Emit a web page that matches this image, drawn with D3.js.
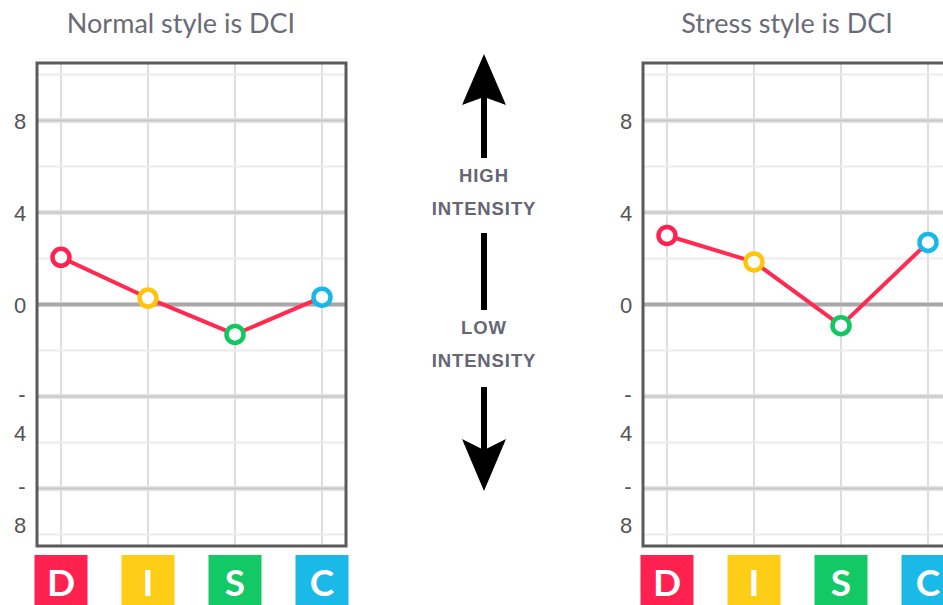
<!DOCTYPE html>
<html>
<head>
<meta charset="utf-8">
<script src="https://cdn.jsdelivr.net/npm/d3@7"></script>
<style>
  html, body { margin: 0; padding: 0; background: #fff; }
  #chart { width: 943px; height: 605px; overflow: hidden; }
  svg { display: block; }
</style>
</head>
<body>
<div id="chart"></div>
<script>
// data
const categories = ['D', 'I', 'S', 'C'];
const normalValues = [2.05, 0.28, -1.3, 0.32];
const stressValues = [3.0, 1.85, -0.92, 2.7];
const panelTitles = ['Normal style is DCI', 'Stress style is DCI'];
const gridTicks = [10, 8, 6, 4, 2, 0, -2, -4, -6, -8, -10];
const labelTicks = [8, 4, 0, -4, -8];
const discColors = ['#ff2150', '#fdcd17', '#13c966', '#1bb9e8'];
const pointColors = ['#ff2150', '#ffc40c', '#12c760', '#18b7e8'];
const lineColor = '#ff2a50';

const W = 943, H = 605;
const frame = { left: 37, right: 346, top: 63, bottom: 546 };
const panelOffset = 606;

const svg = d3.select('#chart').append('svg')
    .attr('width', W)
    .attr('height', H);

const yScale = d3.scaleLinear()
    .domain([-10.5, 10.5])
    .range([frame.bottom, frame.top]);

const xScale = d3.scalePoint()
    .domain(categories)
    .range([frame.left + 24, frame.right - 24]);

function drawPanel(idx, values) {
    const g = svg.append('g')
        .attr('transform', `translate(${idx * panelOffset},0)`);

    g.append('text')
        .attr('x', 181)
        .attr('y', 33)
        .attr('text-anchor', 'middle')
        .attr('font-family', 'Lato, sans-serif')
        .attr('font-size', 27)
        .attr('fill', '#6b6b78')
        .text(panelTitles[idx]);

    // faint line above plot
    g.append('line')
        .attr('x1', frame.left - 2).attr('x2', frame.right + 2)
        .attr('y1', 59).attr('y2', 59)
        .attr('stroke', '#f0f0f0').attr('stroke-width', 1);

    // vertical grid
    g.selectAll('.vgrid')
        .data(categories)
        .enter()
        .append('line')
        .attr('class', 'vgrid')
        .attr('x1', d => xScale(d)).attr('x2', d => xScale(d))
        .attr('y1', frame.top).attr('y2', frame.bottom)
        .attr('stroke', '#dedede')
        .attr('stroke-width', 2);

    // horizontal grid
    const hg = g.selectAll('.hgrid')
        .data(gridTicks)
        .enter()
        .append('g')
        .attr('class', 'hgrid');

    hg.append('line')
        .attr('x1', frame.left).attr('x2', frame.right)
        .attr('y1', d => yScale(d)).attr('y2', d => yScale(d))
        .attr('stroke', d => d === 0 ? '#d0d0d0' : (d % 4 === 0 ? '#e3e3e3' : '#ececec'))
        .attr('stroke-width', d => d % 4 === 0 ? 5 : 2);

    hg.filter(d => d % 4 === 0)
        .append('line')
        .attr('x1', frame.left).attr('x2', frame.right)
        .attr('y1', d => yScale(d)).attr('y2', d => yScale(d))
        .attr('stroke', d => d === 0 ? '#a8a8a8' : '#c9c9c9')
        .attr('stroke-width', d => d === 0 ? 3 : 2);

    // frame
    g.append('rect')
        .attr('x', frame.left)
        .attr('y', frame.top)
        .attr('width', frame.right - frame.left)
        .attr('height', frame.bottom - frame.top)
        .attr('fill', 'none')
        .attr('stroke', '#5a5a5a')
        .attr('stroke-width', 3);

    // y labels (negative sign wraps onto its own line)
    const yl = g.selectAll('.ylabel')
        .data(labelTicks)
        .enter()
        .append('text')
        .attr('class', 'ylabel')
        .attr('text-anchor', 'middle')
        .attr('font-family', '"Liberation Sans", Arial, sans-serif')
        .attr('font-size', 22)
        .attr('fill', '#555');

    yl.each(function(d) {
        const t = d3.select(this);
        const y = yScale(d);
        if (d < 0) {
            t.append('tspan').attr('x', 22).attr('y', y + 5).text('-');
            t.append('tspan').attr('x', 20).attr('y', y + 44).text(String(Math.abs(d)));
        } else {
            t.append('tspan').attr('x', 20).attr('y', y + 8).text(String(d));
        }
    });

    // series line
    const line = d3.line()
        .x((d, i) => xScale(categories[i]))
        .y(d => yScale(d));

    g.append('path')
        .datum(values)
        .attr('d', line)
        .attr('fill', 'none')
        .attr('stroke', lineColor)
        .attr('stroke-width', 4)
        .attr('stroke-linejoin', 'round');

    g.selectAll('.pt')
        .data(values)
        .enter()
        .append('circle')
        .attr('class', 'pt')
        .attr('cx', (d, i) => xScale(categories[i]))
        .attr('cy', d => yScale(d))
        .attr('r', 8.5)
        .attr('fill', '#fff')
        .attr('stroke', (d, i) => pointColors[i])
        .attr('stroke-width', 4.5);

    // DISC boxes
    const box = g.selectAll('.box')
        .data(categories)
        .enter()
        .append('g')
        .attr('class', 'box');

    box.append('rect')
        .attr('x', d => xScale(d) - 26.5)
        .attr('y', 555)
        .attr('width', 53)
        .attr('height', 53)
        .attr('fill', (d, i) => discColors[i]);

    box.append('text')
        .attr('x', d => xScale(d))
        .attr('y', 596)
        .attr('text-anchor', 'middle')
        .attr('font-family', 'Lato, sans-serif')
        .attr('font-weight', 'bold')
        .attr('font-size', 37)
        .attr('fill', '#fff')
        .text(d => d);
}

drawPanel(0, normalValues);
drawPanel(1, stressValues);

// middle intensity indicator
const mid = svg.append('g');
const cx = 484;

mid.append('rect').attr('x', cx - 3).attr('y', 96).attr('width', 6).attr('height', 62).attr('fill', '#000');
mid.append('path')
    .attr('d', `M${cx},54 L${cx + 22},105 L${cx},97 L${cx - 22},105 Z`)
    .attr('fill', '#000');

mid.append('rect').attr('x', cx - 3).attr('y', 233).attr('width', 6).attr('height', 77).attr('fill', '#000');

mid.append('rect').attr('x', cx - 3).attr('y', 387).attr('width', 6).attr('height', 64).attr('fill', '#000');
mid.append('path')
    .attr('d', `M${cx},491 L${cx + 22},439 L${cx},450 L${cx - 22},439 Z`)
    .attr('fill', '#000');

const midLabels = [['HIGH', 181.5], ['INTENSITY', 214.5], ['LOW', 333.5], ['INTENSITY', 366.5]];
mid.selectAll('.midlabel')
    .data(midLabels)
    .enter()
    .append('text')
    .attr('class', 'midlabel')
    .attr('x', cx)
    .attr('y', d => d[1])
    .attr('text-anchor', 'middle')
    .attr('font-family', '"Liberation Sans", Arial, sans-serif')
    .attr('font-weight', 'bold')
    .attr('font-size', 18.5)
    .attr('letter-spacing', 0.9)
    .attr('fill', '#666675')
    .text(d => d[0]);
</script>
</body>
</html>
